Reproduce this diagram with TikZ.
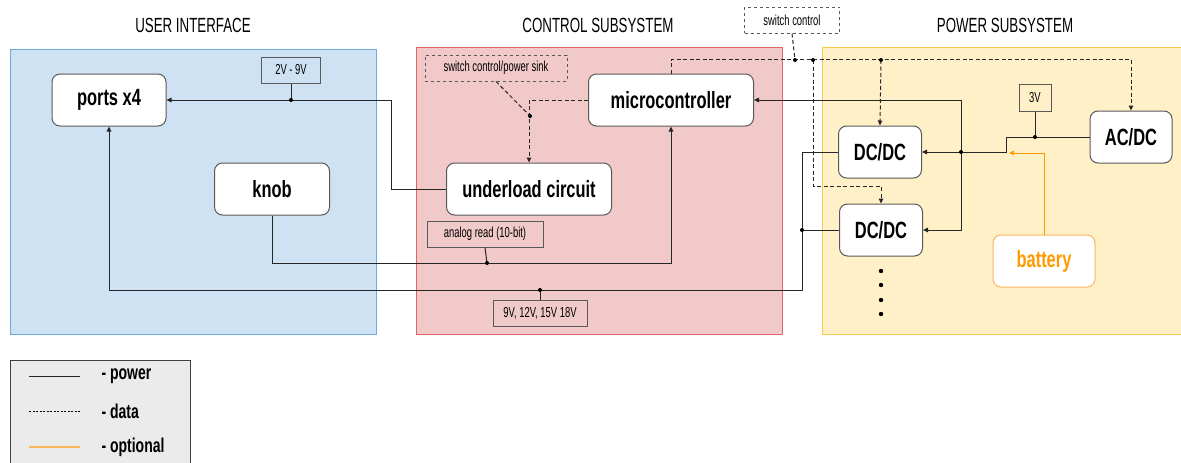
\documentclass[tikz,border=0pt]{standalone}
\usepackage{fontspec}
\setmainfont{Liberation Sans}[FakeStretch=0.75]
\newfontfamily\titlefont{Liberation Sans}[FakeStretch=0.65]
\newfontfamily\blockfont{Liberation Sans}[FakeStretch=0.7]
\usetikzlibrary{arrows.meta}

\definecolor{uifill}{HTML}{CFE2F3}
\definecolor{uiedge}{HTML}{6FA8DC}
\definecolor{ctrlfill}{HTML}{F1C9C9}
\definecolor{ctrledge}{HTML}{E06666}
\definecolor{powfill}{HTML}{FFF0C8}
\definecolor{powedge}{HTML}{F6C850}
\definecolor{optline}{HTML}{FF9900}
\definecolor{optedge}{HTML}{F9B75A}

\tikzset{
  block/.style={draw=black!65, fill=white, rounded corners=8pt, line width=1pt,
    minimum height=52pt, inner sep=0pt, font=\blockfont\bfseries\fontsize{23.5}{25}\selectfont},
  tag/.style={draw=black!65, line width=1pt, minimum height=26pt, inner sep=0pt,
    font=\titlefont\fontsize{14.5}{16}\selectfont},
  paneltitle/.style={font=\titlefont\fontsize{20.5}{22}\selectfont},
  legendtext/.style={anchor=west, font=\blockfont\bfseries\fontsize{20}{22}\selectfont},
  pow/.style={line width=1pt, draw=black!85},
  feed/.style={pow, -{Triangle[length=5pt,width=4.5pt]}},
  data/.style={line width=1pt, draw=black!85, dash pattern=on 4pt off 2.5pt},
  datafeed/.style={data, -{Triangle[length=5pt,width=4.5pt]}},
}

\begin{document}
\begin{tikzpicture}[x=1pt,y=-1pt]
\useasboundingbox (0,0) rectangle (1181,463);

\draw[fill=uifill, draw=uiedge, line width=1pt] (10,49) rectangle (376,334);
\draw[fill=ctrlfill, draw=ctrledge, line width=1pt] (416,47) rectangle (782,334);
\draw[fill=powfill, draw=powedge, line width=1pt] (822,47) rectangle (1190,334);
\draw[fill=black!8, draw=black!75, line width=1pt] (10,360) rectangle (190,470);

\node[paneltitle] (uititle) at (193,25) {USER INTERFACE};
\node[paneltitle] (ctrltitle) at (598,25) {CONTROL SUBSYSTEM};
\node[paneltitle] (powtitle) at (1005,25) {POWER SUBSYSTEM};

\node[block, minimum width=114pt] (ports) at (109,100) {ports x4};
\node[block, minimum width=115pt] (knob) at (272,189) {knob};
\node[block, minimum width=165pt] (mcu) at (671,100) {microcontroller};
\node[block, minimum width=165pt] (under) at (529,189) {underload circuit};
\node[block, minimum width=83pt] (dcone) at (880,152) {DC/DC};
\node[block, minimum width=83pt] (dctwo) at (881,230) {DC/DC};
\node[block, minimum width=82pt] (acdc) at (1131,137) {AC/DC};
\node[block, minimum width=102pt, draw=optedge, text=optline] (bat) at (1044,261) {battery};

\node[tag, minimum width=59pt] (vport) at (291,70) {2V - 9V};
\node[tag, minimum width=142pt, dashed] (sink) at (496,68) {switch control/power sink};
\node[tag, minimum width=116pt] (adc) at (485,234) {analog read (10-bit)};
\node[tag, minimum width=94pt] (vout) at (540,313) {9V, 12V, 15V 18V};
\node[tag, minimum width=95pt, dashed] (swc) at (792,20) {switch control};
\node[tag, minimum width=32pt, minimum height=27pt] (vbat) at (1035,98) {3V};

\draw[feed] (under.west) -- (391,189) |- (ports.east);
\draw[pow] (vport.south) -- (vport.south |- ports.east);
\fill (vport.south |- ports.east) circle[radius=2pt];

\draw[feed] (knob.south) |- (671,263) -- (mcu.south);
\draw[pow] (adc.south) -- (487,263);
\fill (487,263) circle[radius=2pt];

\draw[feed] (dcone.west) -- (802,152) -- (802,290) -| (ports.south);
\draw[pow] (dctwo.west) -- (802,230);
\fill (802,230) circle[radius=2pt];
\draw[pow] (vout.north) -- (vout.north |- 0,290);
\fill (vout.north |- 0,290) circle[radius=2pt];

\draw[feed] (acdc.west) -- (1006,137) -- (1006,152) -- (dcone.east);
\draw[pow] (vbat.south) -- (vbat.south |- acdc.west);
\fill (vbat.south |- acdc.west) circle[radius=2pt];
\draw[feed] (961,152) |- (mcu.east);
\draw[feed] (961,152) |- (dctwo.east);
\fill (961,152) circle[radius=2pt];

\draw[line width=1pt, draw=optline, -{Triangle[length=5pt,width=4.5pt]}] (bat.north) |- (1009,153);

\draw[datafeed] (mcu.north) -- ++(0,-14) -| (acdc.north);
\draw[data] (swc.south) -- (795,60);
\draw[datafeed] (881,60) -- (dcone.north);
\draw[datafeed] (813,60) -- (813,186) -| (dctwo.north);
\foreach \x in {795,813,881} \fill (\x,60) circle[radius=2pt];

\draw[datafeed] (mcu.west) -| (under.north);
\draw[data] (sink.south) -- (530,116);
\fill (530,116) circle[radius=2pt];

\foreach \y in {271,285,300,314} \fill (881,\y) circle[radius=2.2pt];

\draw[pow] (29,376) -- (80,376);
\draw[line width=0.8pt, dash pattern=on 2pt off 1.5pt] (29,411) -- (80,411);
\draw[line width=1.3pt, draw=optedge] (29,447) -- (80,447);
\node[legendtext] (lpow) at (98,376) {- power};
\node[legendtext] (ldata) at (98,411) {- data};
\node[legendtext] (lopt) at (98,447) {- optional};
\end{tikzpicture}
\end{document}
